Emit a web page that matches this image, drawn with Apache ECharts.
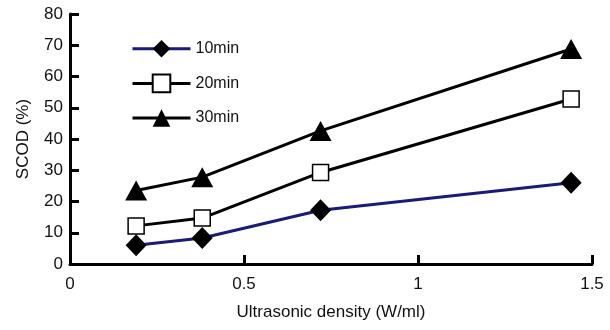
<!DOCTYPE html>
<html>
<head>
<meta charset="utf-8">
<script src="https://cdn.jsdelivr.net/npm/echarts@6/dist/echarts.min.js"></script>
<style>
  html, body { margin: 0; padding: 0; background: #fff; }
  #chart { width: 610px; height: 330px; }
</style>
</head>
<body>
<div id="chart"></div>
<script>
// ultrasonic density (W/ml)
const density = [0.19, 0.38, 0.72, 1.44]
// SCOD (%) per sonication time
const scod10 = [6.0, 8.3, 17.2, 26.0]
const scod20 = [12.2, 14.7, 29.3, 52.8]
const scod30 = [23.5, 27.8, 42.6, 68.8]

const font = 'Liberation Sans, Arial, Helvetica, sans-serif'
const pairs = (ys) => density.map((x, i) => [x, ys[i]])

const chart = echarts.init(document.getElementById('chart'))
const option = {
  backgroundColor: '#fff',
  animation: false,
  textStyle: { fontFamily: font },
  grid: { left: 70, right: 18, top: 14, bottom: 66 },
  legend: {
    orient: 'vertical',
    left: 126,
    top: 35,
    itemWidth: 58,
    itemHeight: 22,
    itemGap: 16,
    lineStyle: { width: 3 },
    textStyle: { fontSize: 16, color: '#111', fontFamily: font },
    data: ['10min', '20min', '30min']
  },
  xAxis: {
    type: 'value',
    min: 0,
    max: 1.5,
    interval: 0.5,
    name: 'Ultrasonic density (W/ml)',
    nameLocation: 'middle',
    nameGap: 40,
    nameTextStyle: { fontSize: 17, color: '#111' },
    axisLine: { lineStyle: { color: '#000', width: 3 } },
    axisTick: { inside: true, length: 9, lineStyle: { color: '#000', width: 3 } },
    axisLabel: { fontSize: 17, color: '#111', margin: 12 },
    splitLine: { show: false }
  },
  yAxis: {
    type: 'value',
    min: 0,
    max: 80,
    interval: 10,
    name: 'SCOD (%)',
    nameLocation: 'middle',
    nameGap: 38,
    nameTextStyle: { fontSize: 17, color: '#111' },
    axisLine: { show: true, lineStyle: { color: '#000', width: 3 } },
    axisTick: { show: true, inside: true, length: 9, lineStyle: { color: '#000', width: 3 } },
    axisLabel: { fontSize: 17, color: '#111', margin: 7 },
    splitLine: { show: false }
  },
  series: [
    {
      name: '10min',
      type: 'line',
      data: pairs(scod10),
      symbol: 'diamond',
      symbolSize: [21, 22],
      lineStyle: { color: '#1a1a7a', width: 3 },
      itemStyle: { color: '#000', borderWidth: 0 }
    },
    {
      name: '20min',
      type: 'line',
      data: pairs(scod20),
      symbol: 'rect',
      symbolSize: 16,
      lineStyle: { color: '#000', width: 3 },
      itemStyle: { color: '#fff', borderColor: '#000', borderWidth: 1.5 }
    },
    {
      name: '30min',
      type: 'line',
      data: pairs(scod30),
      symbol: 'triangle',
      symbolSize: [22, 20],
      lineStyle: { color: '#000', width: 3 },
      itemStyle: { color: '#000', borderWidth: 0 }
    }
  ]
}
chart.setOption(option)
</script>
</body>
</html>
